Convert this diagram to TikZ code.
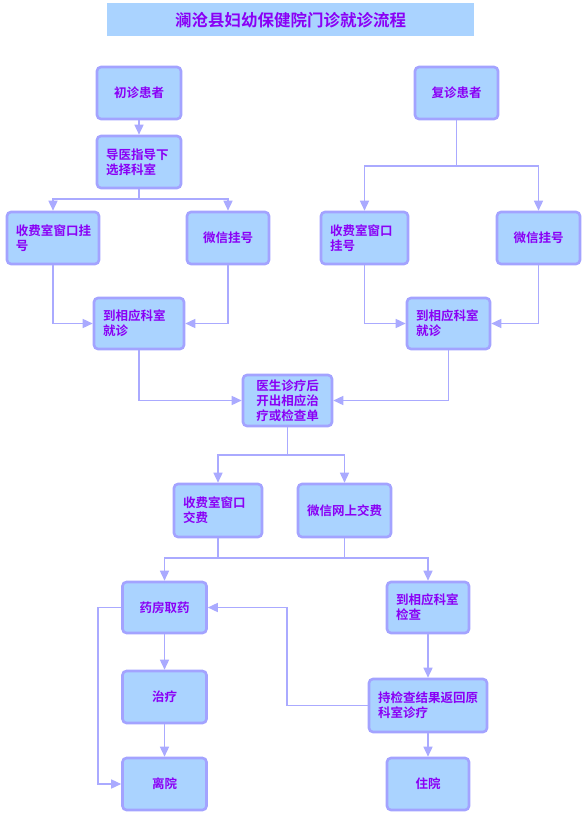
\documentclass[tikz,border=0pt]{standalone}
\usepackage{fontspec}
\setmainfont{Noto Sans CJK SC Bold}
\usetikzlibrary{arrows.meta}
\definecolor{fl}{HTML}{AAD3FF}
\definecolor{bd}{HTML}{A3A3FF}
\definecolor{ln}{HTML}{AAAAFF}
\definecolor{tx}{HTML}{8A00F5}
\tikzset{
  box/.style={draw=bd, fill=fl, line width=2.6pt, rounded corners=4pt, text=tx,
    font=\fontsize{12.5pt}{15pt}\selectfont, align=center, inner sep=0pt},
  lbox/.style={box, align=left, inner xsep=9pt},
  conn/.style={draw=ln, line width=1.5pt},
  arr/.style={conn, -{Triangle[length=10pt,width=9pt]}}
}
\begin{document}
\begin{tikzpicture}[x=1pt,y=-1pt]
\useasboundingbox (0,0) rectangle (588,826);
\fill[white] (0,0) rectangle (588,826);
\node[fill=fl, text=tx, minimum width=367pt, minimum height=33pt, inner sep=0pt,
  font=\fontsize{16.5pt}{18pt}\selectfont] (title) at (290.5,20) {澜沧县妇幼保健院门诊就诊流程};

\node[box, minimum width=84pt, minimum height=52pt] (a1) at (139,93) {初诊患者};
\node[lbox, text width=66pt, minimum height=52pt] (a2) at (139,162) {导医指导下\\选择科室};
\node[box, minimum width=83pt, minimum height=52pt] (b1) at (456.5,93) {复诊患者};
\node[lbox, text width=74pt, minimum height=52pt] (l1) at (53,238) {收费室窗口挂\\号};
\node[box, minimum width=82pt, minimum height=52pt] (l2) at (228,238) {微信挂号};
\node[lbox, text width=72pt, minimum height=51pt] (l3) at (139,323.5) {到相应科室\\就诊};
\node[lbox, text width=69pt, minimum height=52pt] (r1) at (364.5,238) {收费室窗口\\挂号};
\node[box, minimum width=83pt, minimum height=52pt] (r2) at (538.5,238) {微信挂号};
\node[lbox, text width=65pt, minimum height=51pt] (r3) at (448.5,323.5) {到相应科室\\就诊};
\node[box, minimum width=89pt, minimum height=51pt] (m) at (287.5,400.5) {医生诊疗后\\开出相应治\\疗或检查单};
\node[lbox, text width=70pt, minimum height=53pt] (p1) at (218,510.5) {收费室窗口\\交费};
\node[box, minimum width=93pt, minimum height=53pt] (p2) at (344.5,510.5) {微信网上交费};
\node[box, minimum width=84pt, minimum height=51pt] (d1) at (164.5,607.5) {药房取药};
\node[box, minimum width=84pt, minimum height=52pt] (d2) at (164.5,697) {治疗};
\node[box, minimum width=84pt, minimum height=52pt] (d3) at (164.5,784) {离院};
\node[lbox, text width=64pt, minimum height=51pt] (e1) at (428,607.5) {到相应科室\\检查};
\node[lbox, text width=100pt, minimum height=53pt] (e2) at (428,705.5) {持检查结果返回原\\科室诊疗};
\node[box, minimum width=82pt, minimum height=52pt] (e3) at (428,784) {住院};

\coordinate (s1) at (139,199);
\coordinate (s2) at (456.5,166);
\coordinate (s3) at (287.5,455);
\coordinate (j) at (0,558);
\coordinate (lx) at (98,0);
\coordinate (rx) at (287,0);

\draw[arr] (a1) -- (a2);
\draw[conn] (a2) -- (s1);
\draw[arr] (s1) -| (l1.north);
\draw[arr] (s1) -| (l2.north);
\draw[arr] (l1.south) |- (l3.west);
\draw[arr] (l2.south) |- (l3.east);

\draw[conn] (b1) -- (s2);
\draw[arr] (s2) -| (r1.north);
\draw[arr] (s2) -| (r2.north);
\draw[arr] (r1.south) |- (r3.west);
\draw[arr] (r2.south) |- (r3.east);

\draw[arr] (l3.south) |- (m.west);
\draw[arr] (r3.south) |- (m.east);

\draw[conn] (m) -- (s3);
\draw[arr] (s3) -| (p1.north);
\draw[arr] (s3) -| (p2.north);

\draw[conn] (p1.south |- j) -- (p2.south |- j);
\draw[arr] (p1.south) -- (p1.south |- j) -| (d1.north);
\draw[arr] (p2.south) -- (p2.south |- j) -| (e1.north);

\draw[arr] (d1) -- (d2);
\draw[arr] (d2) -- (d3);
\draw[arr] (e1) -- (e2);
\draw[arr] (e2) -- (e3);
\draw[arr] (d1.west) -- (d1.west -| lx) |- (d3.west);
\draw[arr] (e2.west) -- (e2.west -| rx) |- (d1.east);
\end{tikzpicture}
\end{document}
